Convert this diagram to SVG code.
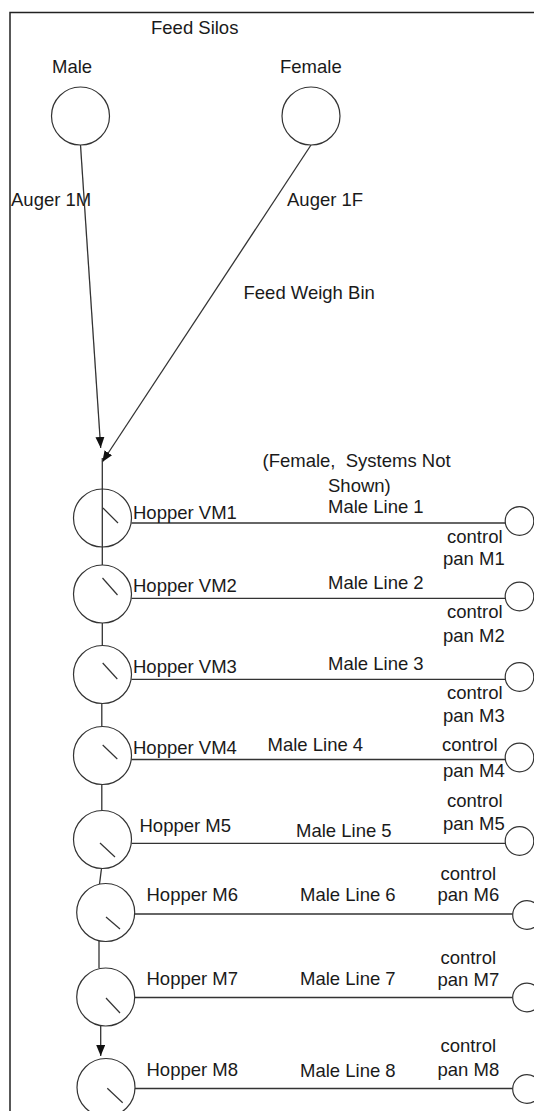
<svg xmlns="http://www.w3.org/2000/svg" width="534" height="1111" viewBox="0 0 534 1111">
<style>
text{font-family:"Liberation Sans",Arial,sans-serif;font-size:18.5px;fill:#1a1a1a;white-space:pre}
.c{fill:#fff;stroke:#333;stroke-width:1.2}
.l{fill:none;stroke:#333;stroke-width:1.3}
.n{stroke:#333;stroke-width:1.2}
</style>
<defs>
<marker id="ah" markerUnits="userSpaceOnUse" markerWidth="12" markerHeight="10" refX="11" refY="4.5" orient="auto">
<path d="M0,0 L11,4.5 L0,9 z" fill="#111"/>
</marker>
</defs>
<rect width="534" height="1111" fill="#fff"/>
<path d="M10,1111 V12.5 H534" fill="none" stroke="#222" stroke-width="1.5"/>
<text x="151" y="34">Feed Silos</text>
<text x="11" y="206">Auger 1M</text>
<text x="287" y="206">Auger 1F</text>
<text x="243.5" y="299">Feed Weigh Bin</text>
<text x="262.5" y="467">(Female,  Systems Not</text>
<text x="328" y="492">Shown)</text>
<g id="connectors">
<line class="l" x1="80.5" y1="145" x2="100.7" y2="448" marker-end="url(#ah)"/>
<line class="l" x1="311" y1="145" x2="102.3" y2="462" marker-end="url(#ah)"/>
<line class="l" x1="102.3" y1="458" x2="102.3" y2="547"/>
<line class="l" x1="102.3" y1="547" x2="102.3" y2="565"/>
<line class="l" x1="102.3" y1="623" x2="102.3" y2="645.5"/>
<line class="l" x1="101.8" y1="703.5" x2="101.8" y2="726.5"/>
<line class="l" x1="101.8" y1="784.5" x2="101.8" y2="810.5"/>
<line class="l" x1="101.5" y1="868.5" x2="99.5" y2="884"/>
<line class="l" x1="99" y1="941" x2="99" y2="968"/>
<line class="l" x1="100.7" y1="1026" x2="100.7" y2="1056" marker-end="url(#ah)"/>
<line class="l" x1="131.5" y1="523" x2="505.3" y2="523"/>
<line class="l" x1="131.5" y1="598.3" x2="505.3" y2="598.3"/>
<line class="l" x1="131.5" y1="679.3" x2="505.3" y2="679.3"/>
<line class="l" x1="131.5" y1="759.5" x2="505.3" y2="759.5"/>
<line class="l" x1="131.5" y1="843.3" x2="505.3" y2="843.3"/>
<line class="l" x1="134.5" y1="914" x2="512.8" y2="914"/>
<line class="l" x1="134.5" y1="997.5" x2="512.8" y2="997.5"/>
<line class="l" x1="135" y1="1088.5" x2="512.8" y2="1088.5"/>
</g>
<g id="silo-male"><circle class="c" cx="80.5" cy="116" r="29"/><text x="52" y="73">Male</text></g>
<g id="silo-female"><circle class="c" cx="311" cy="116" r="29"/><text x="280" y="73">Female</text></g>
<g id="hopper-vm1"><circle class="c" cx="102.5" cy="518" r="29" style="fill:none"/><line class="n" x1="103" y1="508" x2="118" y2="523"/><text x="133" y="519">Hopper VM1</text></g>
<g id="hopper-vm2"><circle class="c" cx="102.5" cy="594" r="29"/><line class="n" x1="102.5" y1="578" x2="117.5" y2="595"/><text x="133" y="592">Hopper VM2</text></g>
<g id="hopper-vm3"><circle class="c" cx="102.5" cy="674.5" r="29"/><line class="n" x1="102.7" y1="663" x2="117.3" y2="679"/><text x="133" y="673">Hopper VM3</text></g>
<g id="hopper-vm4"><circle class="c" cx="102.5" cy="755.5" r="29"/><line class="n" x1="102.7" y1="745" x2="117.3" y2="759"/><text x="133" y="753.5">Hopper VM4</text></g>
<g id="hopper-m5"><circle class="c" cx="102.5" cy="839.5" r="29"/><line class="n" x1="100" y1="843" x2="115" y2="857"/><text x="139.5" y="832">Hopper M5</text></g>
<g id="hopper-m6"><circle class="c" cx="105.7" cy="912.5" r="29"/><line class="n" x1="106" y1="917" x2="120" y2="929"/><text x="146.5" y="901">Hopper M6</text></g>
<g id="hopper-m7"><circle class="c" cx="105.7" cy="997" r="29"/><line class="n" x1="106" y1="998" x2="120" y2="1013"/><text x="146.5" y="984.5">Hopper M7</text></g>
<g id="hopper-m8"><circle class="c" cx="106" cy="1087.5" r="29"/><line class="n" x1="107.3" y1="1088.3" x2="122.7" y2="1102.7"/><text x="146.5" y="1076">Hopper M8</text></g>
<g id="line-1"><text x="328" y="513">Male Line 1</text></g>
<g id="line-2"><text x="328" y="589">Male Line 2</text></g>
<g id="line-3"><text x="328" y="670">Male Line 3</text></g>
<g id="line-4"><text x="267.5" y="751">Male Line 4</text></g>
<g id="line-5"><text x="296" y="837">Male Line 5</text></g>
<g id="line-6"><text x="300" y="901">Male Line 6</text></g>
<g id="line-7"><text x="300" y="985">Male Line 7</text></g>
<g id="line-8"><text x="300" y="1077">Male Line 8</text></g>
<g id="pan-m1"><circle class="c" cx="519.5" cy="521" r="14.3"/><text x="447" y="543">control</text><text x="443" y="565">pan M1</text></g>
<g id="pan-m2"><circle class="c" cx="519.5" cy="596.5" r="14.3"/><text x="447" y="618">control</text><text x="443" y="642">pan M2</text></g>
<g id="pan-m3"><circle class="c" cx="519.5" cy="677" r="14.3"/><text x="447" y="699">control</text><text x="443" y="722">pan M3</text></g>
<g id="pan-m4"><circle class="c" cx="519.5" cy="757.5" r="14.3"/><text x="442" y="751">control</text><text x="443" y="777">pan M4</text></g>
<g id="pan-m5"><circle class="c" cx="519.5" cy="841" r="14.3"/><text x="447" y="807">control</text><text x="443" y="830">pan M5</text></g>
<g id="pan-m6"><circle class="c" cx="527" cy="915" r="14.3"/><text x="440.5" y="880">control</text><text x="437.5" y="901">pan M6</text></g>
<g id="pan-m7"><circle class="c" cx="527" cy="997.5" r="14.3"/><text x="440.5" y="964">control</text><text x="437.5" y="986">pan M7</text></g>
<g id="pan-m8"><circle class="c" cx="527" cy="1089" r="14.3"/><text x="440.5" y="1052">control</text><text x="437.5" y="1076">pan M8</text></g>
</svg>
